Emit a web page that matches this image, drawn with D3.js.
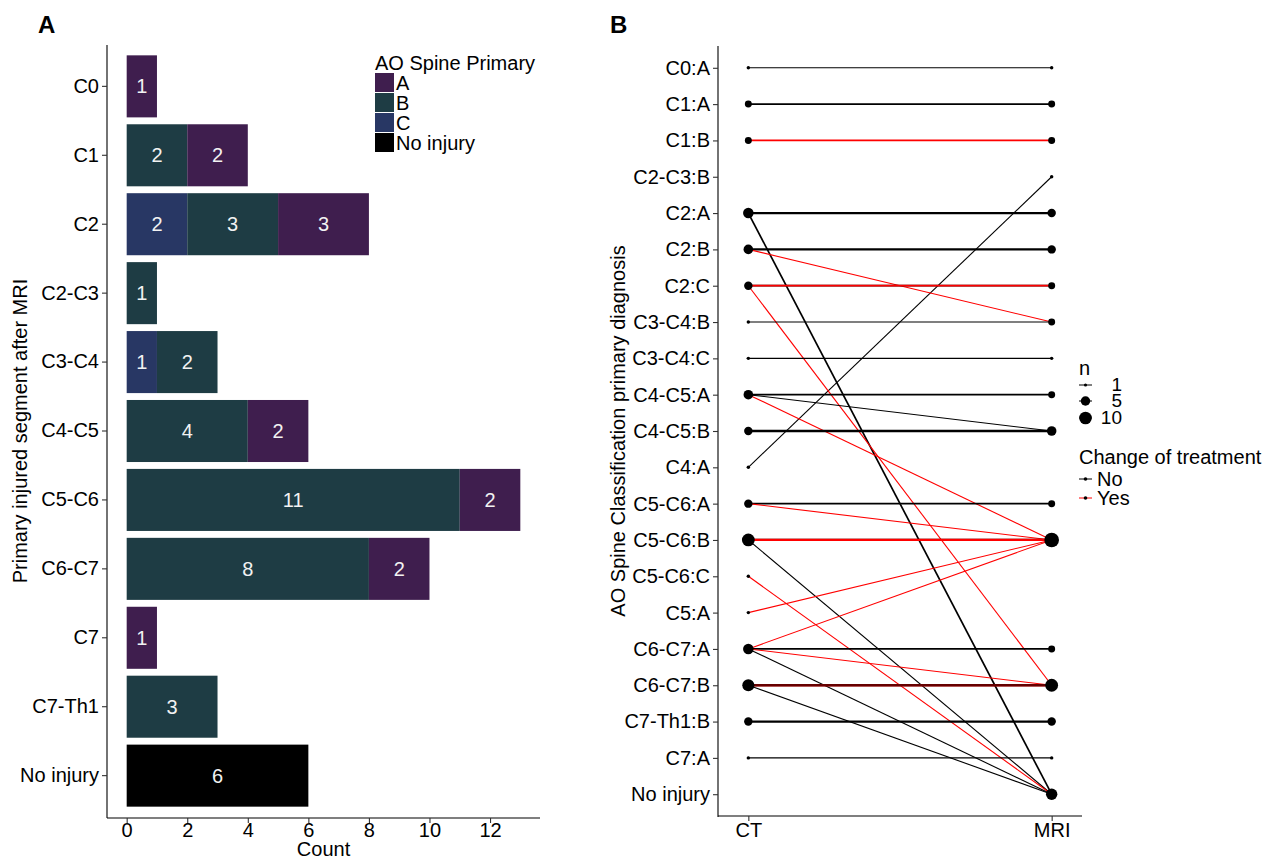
<!DOCTYPE html>
<html>
<head>
<meta charset="utf-8">
<script src="https://cdn.jsdelivr.net/npm/d3@7"></script>
<style>
  body { margin: 0; background: #fff; }
  text { font-family: "Liberation Sans", Arial, sans-serif; }
</style>
</head>
<body>
<svg id="chart" width="1266" height="858"></svg>
<script>
// ---- panel A data: primary injured segment after MRI ----
const segments = ["C0", "C1", "C2", "C2-C3", "C3-C4", "C4-C5", "C5-C6", "C6-C7", "C7", "C7-Th1", "No injury"];
const aoTypes = ["A", "B", "C", "No injury"];
const countA = [1, 2, 3, 0, 0, 2, 2, 2, 1, 0, 0];
const countB = [0, 2, 3, 1, 2, 4, 11, 8, 0, 3, 0];
const countC = [0, 0, 2, 0, 1, 0, 0, 0, 0, 0, 0];
const countNoInjury = [0, 0, 0, 0, 0, 0, 0, 0, 0, 0, 6];
const countTicks = [0, 2, 4, 6, 8, 10, 12];

// ---- panel B data: CT -> MRI diagnosis ----
const diagnoses = ["C0:A", "C1:A", "C1:B", "C2-C3:B", "C2:A", "C2:B", "C2:C", "C3-C4:B", "C3-C4:C",
  "C4-C5:A", "C4-C5:B", "C4:A", "C5-C6:A", "C5-C6:B", "C5-C6:C", "C5:A", "C6-C7:A", "C6-C7:B",
  "C7-Th1:B", "C7:A", "No injury"];
const modalities = ["CT", "MRI"];
// drawn in this order
const transitions = [
  { ct: "C0:A", mri: "C0:A", n: 1, change: "No" },
  { ct: "C1:A", mri: "C1:A", n: 2, change: "No" },
  { ct: "C1:B", mri: "C1:B", n: 2, change: "Yes" },
  { ct: "C4:A", mri: "C2-C3:B", n: 1, change: "No" },
  { ct: "C2:A", mri: "C2:A", n: 3, change: "No" },
  { ct: "C2:A", mri: "No injury", n: 2, change: "No" },
  { ct: "C2:B", mri: "C2:B", n: 3, change: "No" },
  { ct: "C2:B", mri: "C3-C4:B", n: 1, change: "Yes" },
  { ct: "C2:C", mri: "C2:C", n: 1, change: "No" },
  { ct: "C2:C", mri: "C2:C", n: 1, change: "Yes" },
  { ct: "C2:C", mri: "C6-C7:B", n: 1, change: "Yes" },
  { ct: "C3-C4:B", mri: "C3-C4:B", n: 1, change: "No" },
  { ct: "C3-C4:C", mri: "C3-C4:C", n: 1, change: "No" },
  { ct: "C4-C5:A", mri: "C4-C5:A", n: 2, change: "No" },
  { ct: "C4-C5:A", mri: "C4-C5:B", n: 1, change: "No" },
  { ct: "C4-C5:A", mri: "C5-C6:B", n: 1, change: "Yes" },
  { ct: "C4-C5:B", mri: "C4-C5:B", n: 3, change: "No" },
  { ct: "C5-C6:A", mri: "C5-C6:A", n: 2, change: "No" },
  { ct: "C5-C6:A", mri: "C5-C6:B", n: 1, change: "Yes" },
  { ct: "C5-C6:B", mri: "C5-C6:B", n: 6, change: "No" },
  { ct: "C5-C6:B", mri: "C5-C6:B", n: 1, change: "Yes" },
  { ct: "C5-C6:B", mri: "No injury", n: 1, change: "No" },
  { ct: "C5-C6:C", mri: "No injury", n: 1, change: "Yes" },
  { ct: "C5:A", mri: "C5-C6:B", n: 1, change: "Yes" },
  { ct: "C6-C7:A", mri: "C6-C7:A", n: 2, change: "No" },
  { ct: "C6-C7:A", mri: "C5-C6:B", n: 1, change: "Yes" },
  { ct: "C6-C7:A", mri: "C6-C7:B", n: 1, change: "Yes" },
  { ct: "C6-C7:A", mri: "No injury", n: 1, change: "No" },
  { ct: "C6-C7:B", mri: "C6-C7:B", n: 1, change: "Yes" },
  { ct: "C6-C7:B", mri: "C6-C7:B", n: 5, change: "No" },
  { ct: "C6-C7:B", mri: "No injury", n: 1, change: "No" },
  { ct: "C7-Th1:B", mri: "C7-Th1:B", n: 3, change: "No" },
  { ct: "C7:A", mri: "C7:A", n: 1, change: "No" }
];
const sizeBreaks = [1, 5, 10];
const changeLevels = ["No", "Yes"];

const svg = d3.select("#chart");
const fontSize = 20;

// ================= Panel A =================
const colorA = d3.scaleOrdinal().domain(aoTypes).range(["#3f1e4e", "#1e3c44", "#283764", "#000000"]);

const xA = d3.scaleLinear().domain([-0.65, 13.65]).range([107, 540]);
const yA = d3.scaleBand().domain(segments).range([45, 817]).paddingInner(0.1).paddingOuter(0.15);

const rowsA = segments.map((s, i) => ({
  segment: s, "C": countC[i], "B": countB[i], "A": countA[i], "No injury": countNoInjury[i]
}));
const stackA = d3.stack().keys(["C", "B", "A", "No injury"])(rowsA);

const gA = svg.append("g");

const layers = gA.selectAll(".layer").data(stackA).join("g")
  .attr("fill", d => colorA(d.key));

layers.selectAll("rect")
  .data(d => d.filter(v => v[1] - v[0] > 0))
  .join("rect")
  .attr("x", d => xA(d[0]))
  .attr("width", d => xA(d[1]) - xA(d[0]))
  .attr("y", d => yA(d.data.segment))
  .attr("height", yA.bandwidth());

const barLabels = [];
stackA.forEach(layer => layer.forEach(v => {
  if (v[1] - v[0] > 0) barLabels.push({ seg: v.data.segment, mid: (v[0] + v[1]) / 2, val: v[1] - v[0] });
}));
gA.selectAll(".barLabel").data(barLabels).join("text")
  .attr("class", "barLabel")
  .attr("x", d => xA(d.mid))
  .attr("y", d => yA(d.seg) + yA.bandwidth() / 2 + 7)
  .attr("text-anchor", "middle")
  .style("font-size", "20px")
  .style("fill", "#f2f2f2")
  .text(d => d.val);

const axisStyle = (g) => {
  g.select(".domain").attr("stroke", "#000").attr("stroke-width", 1.1);
  g.selectAll(".tick line").attr("stroke", "#333").attr("stroke-width", 1.1);
  g.selectAll(".tick text").style("font-size", fontSize + "px").attr("fill", "#000")
    .style("font-family", '"Liberation Sans", Arial, sans-serif');
};

gA.append("g")
  .attr("transform", "translate(107,0)")
  .call(d3.axisLeft(yA).tickSize(5).tickPadding(3).tickSizeOuter(0))
  .call(g => g.select(".domain").attr("d", "M0,45V818"))
  .call(axisStyle);

gA.append("g")
  .attr("transform", "translate(0,818)")
  .call(d3.axisBottom(xA).tickValues(countTicks).tickSize(5).tickPadding(0).tickSizeOuter(0))
  .call(g => g.select(".domain").attr("d", "M107,0H540"))
  .call(axisStyle);

gA.append("text")
  .attr("x", (107 + 540) / 2).attr("y", 856)
  .attr("text-anchor", "middle").style("font-size", fontSize + "px")
  .text("Count");

gA.append("text")
  .attr("transform", "translate(27,431) rotate(-90)")
  .attr("text-anchor", "middle").style("font-size", fontSize + "px")
  .text("Primary injured segment after MRI");

gA.append("text")
  .attr("x", 38).attr("y", 33)
  .style("font-size", "24px").style("font-weight", "bold")
  .text("A");

// legend A
const legA = gA.append("g").attr("transform", "translate(375,0)");
legA.append("text").attr("x", 0).attr("y", 70).style("font-size", fontSize + "px").text("AO Spine Primary");
aoTypes.forEach((t, i) => {
  const y0 = 73 + i * 20;
  legA.append("rect").attr("x", 0).attr("y", y0).attr("width", 19).attr("height", 19).attr("fill", colorA(t));
  legA.append("text").attr("x", 21).attr("y", y0 + 17).style("font-size", fontSize + "px").text(t);
});

// ================= Panel B =================
const xB = d3.scalePoint().domain(modalities).range([718, 1082]).padding(0.1);
const yB = d3.scalePoint().domain(diagnoses).range([46, 816]).padding(0.6);
const colorB = d3.scaleOrdinal().domain(changeLevels).range(["#000000", "#ff0000"]);
// area-style size scale (like ggplot scale_size), converted to a pixel radius
const sizeB = d3.scaleSqrt().domain([0, 10]).range([1, 6]);
const rB = n => 0.6 + 1.12 * sizeB(n - 1);
const widthB = d3.scaleLinear().domain([1, 3]).range([1.1, 2.3]).clamp(true);

const gB = svg.append("g");

// total patients on each CT->MRI path
const pathTotal = d3.rollup(transitions, v => d3.sum(v, d => d.n), d => d.ct + "|" + d.mri);
const seenYes = new Set();
const linkRows = transitions.map(d => {
  const key = d.ct + "|" + d.mri;
  const overRed = d.change === "No" && seenYes.has(key);
  if (d.change === "Yes") seenYes.add(key);
  return Object.assign({}, d, { w: widthB(pathTotal.get(key)), op: overRed ? 0.6 : 1 });
});

gB.selectAll(".link").data(linkRows).join("line")
  .attr("class", "link")
  .attr("x1", xB("CT")).attr("x2", xB("MRI"))
  .attr("y1", d => yB(d.ct)).attr("y2", d => yB(d.mri))
  .attr("stroke", d => colorB(d.change))
  .attr("stroke-opacity", d => d.op)
  .attr("stroke-width", d => d.w);

const ctTotals = d3.rollups(transitions, v => d3.sum(v, d => d.n), d => d.ct)
  .map(([k, n]) => ({ mod: "CT", diag: k, n }));
const mriTotals = d3.rollups(transitions, v => d3.sum(v, d => d.n), d => d.mri)
  .map(([k, n]) => ({ mod: "MRI", diag: k, n }));

gB.selectAll(".pt").data(ctTotals.concat(mriTotals)).join("circle")
  .attr("class", "pt")
  .attr("cx", d => xB(d.mod))
  .attr("cy", d => yB(d.diag))
  .attr("r", d => rB(d.n))
  .attr("fill", "#000");

gB.append("g")
  .attr("transform", "translate(718,0)")
  .call(d3.axisLeft(yB).tickSize(5).tickPadding(3).tickSizeOuter(0))
  .call(g => g.select(".domain").attr("d", "M0,46V817"))
  .call(axisStyle);

gB.append("g")
  .attr("transform", "translate(0,816)")
  .call(d3.axisBottom(xB).tickSize(5).tickPadding(2).tickSizeOuter(0))
  .call(g => g.select(".domain").attr("d", "M718,0H1082"))
  .call(axisStyle);

gB.append("text")
  .attr("transform", "translate(625,431) rotate(-90)")
  .attr("text-anchor", "middle").style("font-size", fontSize + "px")
  .text("AO Spine Classification primary diagnosis");

gB.append("text")
  .attr("x", 610).attr("y", 33)
  .style("font-size", "24px").style("font-weight", "bold")
  .text("B");

// legend B: size
const legN = gB.append("g");
legN.append("text").attr("x", 1079).attr("y", 375).style("font-size", fontSize + "px").text("n");
sizeBreaks.forEach((b, i) => {
  const cy = [385, 401, 418][i];
  legN.append("line").attr("x1", 1079).attr("x2", 1092).attr("y1", cy).attr("y2", cy)
    .attr("stroke", "#000").attr("stroke-width", 1);
  legN.append("circle").attr("cx", 1085.5).attr("cy", cy).attr("r", rB(b) * 0.9).attr("fill", "#000");
  legN.append("text").attr("x", 1122).attr("y", cy + 6).attr("text-anchor", "end")
    .style("font-size", "19px").text(b);
});

// legend B: colour
const legC = gB.append("g");
legC.append("text").attr("x", 1079).attr("y", 464).style("font-size", fontSize + "px").text("Change of treatment");
changeLevels.forEach((c, i) => {
  const cy = 479 + i * 19;
  legC.append("line").attr("x1", 1079).attr("x2", 1092).attr("y1", cy).attr("y2", cy)
    .attr("stroke", colorB(c)).attr("stroke-width", 1);
  legC.append("circle").attr("cx", 1085.5).attr("cy", cy).attr("r", 1.8).attr("fill", "#000");
  legC.append("text").attr("x", 1097).attr("y", cy + 7).style("font-size", fontSize + "px").text(c);
});
</script>
</body>
</html>
